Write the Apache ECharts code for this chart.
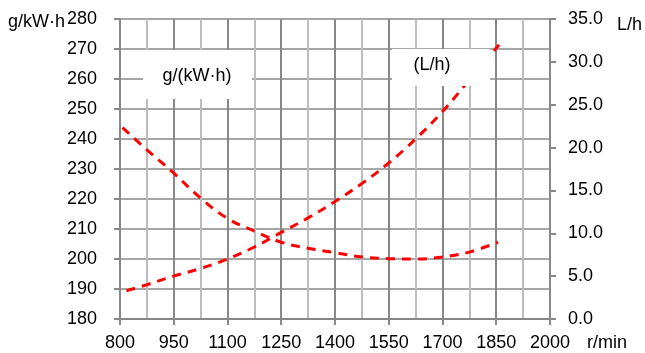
<!DOCTYPE html>
<html>
<head>
<meta charset="utf-8">
<script src="https://cdn.jsdelivr.net/npm/echarts@6/dist/echarts.min.js"></script>
<style>
    html, body { margin: 0; padding: 0; background: #fff; }
    #chart { width: 645px; height: 353px; }
</style>
</head>
<body>
<div id="chart"></div>
<script>
// 油耗率 g/(kW·h)，左轴
let rpmBsfc = [807, 875, 950, 1025, 1100, 1175, 1250, 1325, 1400, 1475, 1550, 1625, 1700, 1775, 1855];
let bsfc = [243.8, 236.4, 228.6, 220.3, 213.5, 209.3, 205.6, 203.6, 202.1, 200.7, 200.1, 200.0, 200.7, 202.3, 205.6];

// 小时油耗 L/h，右轴
let rpmFuel = [818, 875, 950, 1025, 1100, 1175, 1250, 1325, 1400, 1475, 1550, 1625, 1700, 1775, 1858];
let fuel = [3.3, 4.0, 5.0, 5.9, 7.0, 8.4, 10.1, 11.8, 13.7, 15.8, 18.2, 21.0, 24.2, 27.9, 32.0];

let font = 'Liberation Sans, Arial, sans-serif';
let txt = { color: '#000', fontSize: 18, fontFamily: font };

let pairs = (xs, ys) => xs.map((x, i) => [x, ys[i]]);

let dashLine = {
    color: '#ff0000',
    width: 3,
    type: [9, 7],
    cap: 'butt'
};

let option = {
    animation: false,
    grid: { left: 120, right: 93, top: 19, bottom: 34 },
    xAxis: {
        type: 'value',
        min: 800,
        max: 2000,
        interval: 150,
        name: 'r/min',
        nameLocation: 'end',
        nameGap: 37,
        nameMoveOverlap: false,
        nameTextStyle: { ...txt, verticalAlign: 'top', padding: [15, 0, 0, 0] },
        axisLine: { show: true, lineStyle: { color: '#888', width: 2 } },
        axisTick: { show: true, length: 6, lineStyle: { color: '#888', width: 2 } },
        axisLabel: { ...txt, margin: 15, formatter: v => String(v) },
        splitLine: { show: true, lineStyle: { color: '#888', width: 2 } },
        minorTick: { show: false, splitNumber: 2 },
        minorSplitLine: { show: true, lineStyle: { color: '#bdbdbd', width: 2 } }
    },
    yAxis: [
        {
            type: 'value',
            min: 180,
            max: 280,
            interval: 10,
            name: 'g/kW·h',
            nameLocation: 'end',
            nameGap: -3,
            nameMoveOverlap: false,
            nameTextStyle: { ...txt, align: 'right', verticalAlign: 'middle', padding: [0, 55, 0, 0] },
            axisLine: { show: true, lineStyle: { color: '#888', width: 2 } },
            axisTick: { show: true, length: 6, lineStyle: { color: '#888', width: 2 } },
            axisLabel: { ...txt, margin: 23 },
            splitLine: { show: true, lineStyle: { color: '#a6a6a6', width: 2 } }
        },
        {
            type: 'value',
            position: 'right',
            min: 0,
            max: 35,
            interval: 5,
            name: 'L/h',
            nameLocation: 'end',
            nameGap: -6,
            nameMoveOverlap: false,
            nameTextStyle: { ...txt, align: 'left', verticalAlign: 'middle', padding: [0, 0, 0, 67] },
            axisLine: { show: true, lineStyle: { color: '#888', width: 2 } },
            axisTick: { show: true, length: 6, lineStyle: { color: '#888', width: 2 } },
            axisLabel: { ...txt, margin: 18, formatter: v => v.toFixed(1) },
            splitLine: { show: false }
        }
    ],
    series: [
        {
            name: 'g/(kW·h)',
            type: 'line',
            yAxisIndex: 0,
            smooth: 0.4,
            showSymbol: false,
            lineStyle: dashLine,
            data: pairs(rpmBsfc, bsfc)
        },
        {
            name: '(L/h)',
            type: 'line',
            yAxisIndex: 1,
            smooth: 0.4,
            showSymbol: false,
            lineStyle: dashLine,
            data: pairs(rpmFuel, fuel)
        }
    ],
    // 两个白底标签框，盖住网格线
    graphic: [
        { type: 'rect', z: 100, shape: { x: 143, y: 50, width: 109, height: 49 }, style: { fill: '#fff' } },
        { type: 'text', z: 101, x: 197, y: 76, style: { text: 'g/(kW·h)', fill: '#000', font: '18px ' + font, align: 'center', verticalAlign: 'middle' } },
        { type: 'rect', z: 100, shape: { x: 392, y: 49, width: 98, height: 37 }, style: { fill: '#fff' } },
        { type: 'text', z: 101, x: 432, y: 65, style: { text: '(L/h)', fill: '#000', font: '18px ' + font, align: 'center', verticalAlign: 'middle' } }
    ]
};

let myChart = echarts.init(document.getElementById('chart'));
myChart.setOption(option);
</script>
</body>
</html>
